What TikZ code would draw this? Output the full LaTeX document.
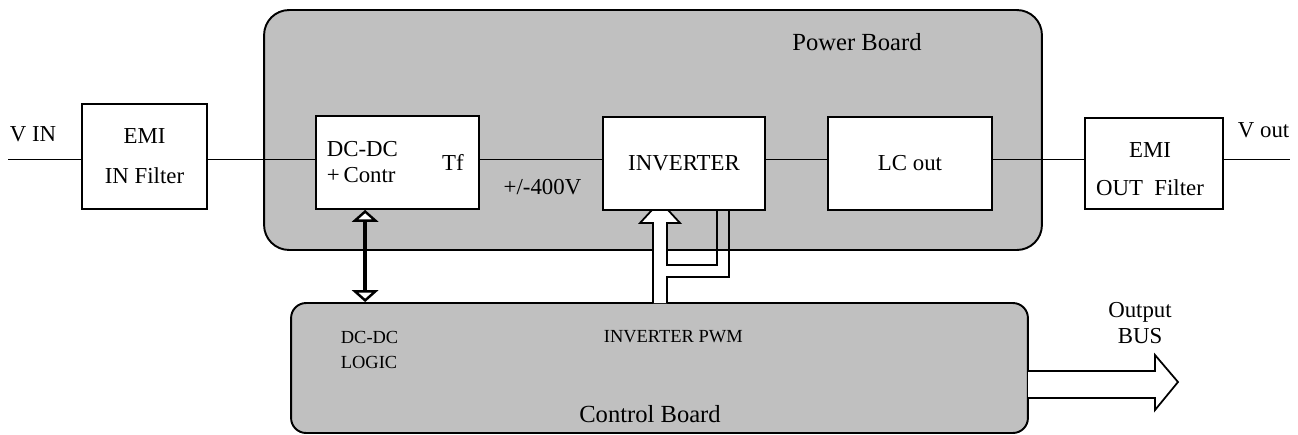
\documentclass[tikz,border=0pt]{standalone}
\usepackage{fontspec}
\setmainfont{Liberation Serif}
\usepackage{tikz}
\usetikzlibrary{arrows.meta,calc}
\definecolor{boardgray}{RGB}{192,192,192}

\begin{document}
\begin{tikzpicture}[x=0.02cm,y=-0.02cm,line width=1pt,
    board/.style={draw,fill=boardgray,line width=1.1pt},
    blk/.style={draw,fill=white,inner sep=0pt,minimum height=1.86cm},
    txt/.style={font=\fontsize{13}{15}\selectfont,inner sep=0pt},
    bigtxt/.style={font=\fontsize{14}{16}\selectfont,inner sep=0pt},
    small/.style={font=\fontsize{10.5}{12}\selectfont,inner sep=0pt},
    opentip/.tip={Triangle[fill=white,length=2.4mm,width=5.3mm,line width=1.4pt]}]
    \useasboundingbox (0,0) rectangle (1298,434);
    \node[board,rounded corners=0.5cm,minimum width=15.56cm,minimum height=4.8cm] (power) at (653,130) {};
    \node[board,rounded corners=0.3cm,minimum width=14.74cm,minimum height=2.6cm] (ctrl) at (659.5,368) {};
    \node[blk,minimum width=2.5cm,minimum height=2.1cm,align=center,font=\fontsize{13}{22.7}\selectfont] (emiin) at (144.5,156.5) {EMI\\IN Filter};
    \node[blk,minimum width=3.26cm] (dcdc) at (397.5,162.5) {};
    \node[blk,minimum width=3.24cm,txt] (inv) at (684,163.5) {INVERTER};
    \node[blk,minimum width=3.28cm,txt] (lcout) at (910,163.5) {LC out};
    \node[blk,minimum width=2.76cm,minimum height=1.82cm] (emiout) at (1154,163.5) {};
    \coordinate (vin) at (8,159.5);
    \coordinate (vout) at (1290,159.5);
    \draw (vin) -- (emiin.west |- vin);
    \draw (emiin.east |- vin) -- (dcdc.west |- vin);
    \draw (dcdc.east |- vin) -- (inv.west |- vin);
    \draw (inv.east |- vin) -- (lcout.west |- vin);
    \draw (lcout.east |- vin) -- (emiout.west |- vin);
    \draw (emiout.east |- vout) -- (vout);
    \node[txt,anchor=west] (vinlbl) at (9,134) {V IN};
    \node[txt,anchor=west] (voutlbl) at (1237,130) {V out};
    \node[bigtxt] (powerlbl) at (857,42) {Power Board};
    \node[txt] (hv) at (542.5,187) {+/-400V};
    \node[txt,anchor=west,align=left,font=\fontsize{13}{15.3}\selectfont] (dcdclbl) at (326,162) {DC-DC\\+\,Contr};
    \node[txt] (tf) at (453,162) {Tf};
    \node[align=center,inner sep=0pt,font=\fontsize{13}{21.5}\selectfont] (emioutlbl) at (1150,169) {EMI\\OUT\ \ Filter};
    \node[small,anchor=west,align=left,font=\fontsize{10.5}{14.7}\selectfont] (logic) at (340,350) {DC-DC\\LOGIC};
    \node[small,anchor=west] (pwm) at (603,337) {INVERTER PWM};
    \node[bigtxt] (ctrllbl) at (650,414) {Control Board};
    \node[align=center,inner sep=0pt,font=\fontsize{13}{14.7}\selectfont] (buslbl) at (1140,323) {Output\\BUS};
    \coordinate (dcb) at ($(dcdc.south west)+(50,0)$);
    \draw[line width=2.4pt,opentip-opentip] (dcb) -- (dcb |- ctrl.north);
    \fill[white] (653,303) -- (653,223) -- (640,223) -- (652,210) -- (668,210) -- (680,223) -- (667,223) -- (667,303) -- cycle;
    \draw (653,303) -- (653,223) -- (640,223) -- (652,210) -- (668,210) -- (680,223) -- (667,223) -- (667,265) -- (717,265) -- (717,210);
    \draw (729,210) -- (729,277) -- (667,277) -- (667,303);
    \draw[fill=white] (1028,371) -- (1155,371) -- (1155,355) -- (1178,382) -- (1155,410) -- (1155,398) -- (1028,398);
\end{tikzpicture}
\end{document}
